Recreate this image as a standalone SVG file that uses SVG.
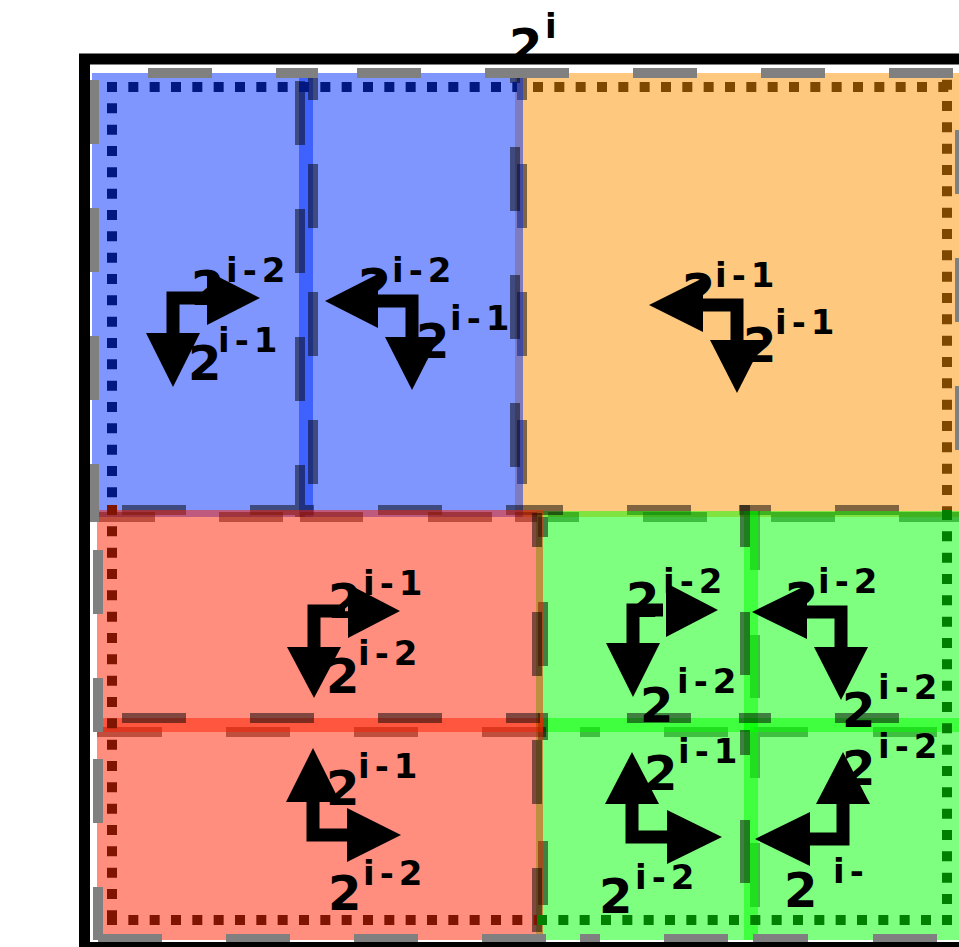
<svg xmlns="http://www.w3.org/2000/svg" width="959" height="947" viewBox="0 0 959 947">
<style>
.fo{fill:#FF9100;fill-opacity:.5}
.fg{fill:#00FF00;fill-opacity:.5}
.fb{fill:#002DFF;fill-opacity:.5}
.fr{fill:#FF1D00;fill-opacity:.5}
.d{stroke:#000;stroke-opacity:.5;stroke-width:10;fill:none}
.og{stroke:#808080;stroke-width:10;fill:none}
.dot{stroke-width:10;stroke-dasharray:10 11.333;fill:none}
.ar{stroke:#000;stroke-width:13;fill:none;stroke-linejoin:miter}
.ah{fill:#000}
.n{font-family:"DejaVu Sans","Liberation Sans",sans-serif;font-weight:bold;font-size:48px;fill:#000}
.s{font-size:34px;letter-spacing:5px}
</style>
<rect x="0" y="0" width="959" height="947" fill="#fff"/>

<g id="region-orange"><rect class="fo" x="515" y="73" width="460" height="444"/></g>
<path class="d" d="M522 73V100M522 164V228M522 292V356M522 420V484M627 510H691M739 510H771M835 510H899"/>
<path class="d" d="M548 517H579M643 517H707M771 517H835M899 517H963M755 511V570M755 635V698M755 730V778M755 843V907M580 732H600M664 732H728M753 732H808M873 732H937"/>
<g id="region-green-tl"><rect class="fg" x="536" y="511" width="222" height="221"/></g>
<g id="region-green-tr"><rect class="fg" x="744" y="511" width="230" height="221"/></g>
<g id="region-green-bl"><rect class="fg" x="536" y="718" width="222" height="222"/></g>
<g id="region-green-br"><rect class="fg" x="744" y="718" width="230" height="222"/></g>
<path class="d" d="M745 505V547M745 612V675M745 730V755M745 820V883M627 718H691M739 718H771M835 718H899M543 517V537M543 602V666M543 713V740M543 841V905"/>
<g id="region-blue-a"><rect class="fb" x="92" y="73" width="221" height="444"/></g>
<g id="region-blue-b"><rect class="fb" x="299" y="73" width="224" height="444"/></g>
<path class="d" d="M313 73V100M313 164V228M313 292V356M313 420V484M300 81V145M300 209V273M300 337V401M300 465V517M515 73V83M515 147V211M515 275V339M515 403V467M122 510H186M250 510H314M378 510H442M506 510H563"/>
<path class="d" d="M97 517H155M219 517H283M300 517H363M428 517H492M515 517H537M97 732H162M226 732H290M354 732H418M482 732H546"/>
<g id="region-red-a"><rect class="fr" x="97" y="510" width="446" height="222"/></g>
<g id="region-red-b"><rect class="fr" x="97" y="718" width="446" height="222"/></g>
<path class="d" d="M122 718H186M250 718H314M378 718H442M506 718H540M537 513V547M537 612V676M537 740V804M537 868V932"/>

<g id="dotted-border">
<path class="dot" stroke="#001880" d="M107 87H517M112 82V505"/>
<path class="dot" stroke="#7F4800" d="M533 87H952M947 79.67V510"/>
<path class="dot" stroke="#007F00" d="M947 510V925M537 920H952"/>
<path class="dot" stroke="#7F1400" d="M112 505V925M107 920H537"/>
</g>

<g id="outer-dashes">
<path class="og" d="M148 73H212M276 73H318M357 73H421M485 73H569M633 73H697M761 73H825M889 73H953M960 130V194M960 258V322M960 386V450"/>
<path class="og" stroke-width="8" d="M94 80V144M94 208V272M94 336V400M94 464V522"/>
<path class="og" d="M98 550V614M98 678V732M98 759V823M98 887V940"/>
<path class="og" stroke-width="6" d="M98 939H162M226 939H290M354 939H418M482 939H546M580 939H600M664 939H728M753 939H808M873 939H937"/>
</g>

<rect id="frame" x="84.5" y="59" width="900" height="888.5" fill="none" stroke="#000" stroke-width="11"/>

<g id="connectors">
<path class="ar" d="M210 298H173V336"/>
<polygon class="ah" points="207,271 260,298 207,325"/>
<polygon class="ah" points="146,333 173,387 200,333"/>
<path class="ar" d="M375 301H412V340"/>
<polygon class="ah" points="378,274 325,301 378,328"/>
<polygon class="ah" points="385,337 412,390 439,337"/>
<path class="ar" d="M700 305H737V343"/>
<polygon class="ah" points="703,278 649,305 703,332"/>
<polygon class="ah" points="710,340 737,393 764,340"/>
<path class="ar" d="M345 611H314V650"/>
<polygon class="ah" points="348,584 400,611 348,638"/>
<polygon class="ah" points="287,647 314,698 341,647"/>
<path class="ar" d="M313 799V835H350"/>
<polygon class="ah" points="286,802 313,748 340,802"/>
<polygon class="ah" points="347,808 401,835 347,862"/>
<path class="ar" d="M663 610H633V646"/>
<polygon class="ah" points="666,583 718,610 666,637"/>
<polygon class="ah" points="606,643 633,697 660,643"/>
<path class="ar" d="M804 612H841V650"/>
<polygon class="ah" points="807,585 752,612 807,639"/>
<polygon class="ah" points="814,647 841,700 868,647"/>
<path class="ar" d="M632 801V837H670"/>
<polygon class="ah" points="605,804 632,752 659,804"/>
<polygon class="ah" points="667,810 722,837 667,864"/>
<path class="ar" d="M843 801V839H807"/>
<polygon class="ah" points="816,804 843,752 870,804"/>
<polygon class="ah" points="810,812 755,839 810,866"/>
</g>

<g id="title"><text class="n" x="509" y="63">2<tspan class="s" x="545" y="38">i</tspan></text></g>
<g id="labels-blue-a">
<text class="n" x="191" y="305">2<tspan class="s" x="226" y="282">i-2</tspan></text>
<text class="n" x="188" y="380">2<tspan class="s" x="218" y="352">i-1</tspan></text>
</g>
<g id="labels-blue-b">
<text class="n" x="358" y="303">2<tspan class="s" x="392" y="282">i-2</tspan></text>
<text class="n" x="416" y="358">2<tspan class="s" x="450" y="330">i-1</tspan></text>
</g>
<g id="labels-orange">
<text class="n" x="682" y="308">2<tspan class="s" x="715" y="287">i-1</tspan></text>
<text class="n" x="743" y="362">2<tspan class="s" x="775" y="334">i-1</tspan></text>
</g>
<g id="labels-red-a">
<text class="n" x="328" y="618">2<tspan class="s" x="363" y="595">i-1</tspan></text>
<text class="n" x="326" y="693">2<tspan class="s" x="358" y="665">i-2</tspan></text>
</g>
<g id="labels-red-b">
<text class="n" x="326" y="805">2<tspan class="s" x="358" y="778">i-1</tspan></text>
<text class="n" x="328" y="910">2<tspan class="s" x="363" y="885">i-2</tspan></text>
</g>
<g id="labels-green-tl">
<text class="n" x="626" y="617">2<tspan class="s" x="663" y="593">i-2</tspan></text>
<text class="n" x="640" y="722">2<tspan class="s" x="677" y="693">i-2</tspan></text>
</g>
<g id="labels-green-tr">
<text class="n" x="785" y="617">2<tspan class="s" x="818" y="593">i-2</tspan></text>
<text class="n" x="842" y="727">2<tspan class="s" x="878" y="699">i-2</tspan></text>
</g>
<g id="labels-green-bl">
<text class="n" x="644" y="790">2<tspan class="s" x="678" y="763">i-1</tspan></text>
<text class="n" x="599" y="913">2<tspan class="s" x="635" y="889">i-2</tspan></text>
</g>
<g id="labels-green-br">
<text class="n" x="842" y="785">2<tspan class="s" x="878" y="758">i-2</tspan></text>
<text class="n" x="784" y="907">2<tspan class="s" x="833" y="883">i-</tspan></text>
</g>
</svg>
